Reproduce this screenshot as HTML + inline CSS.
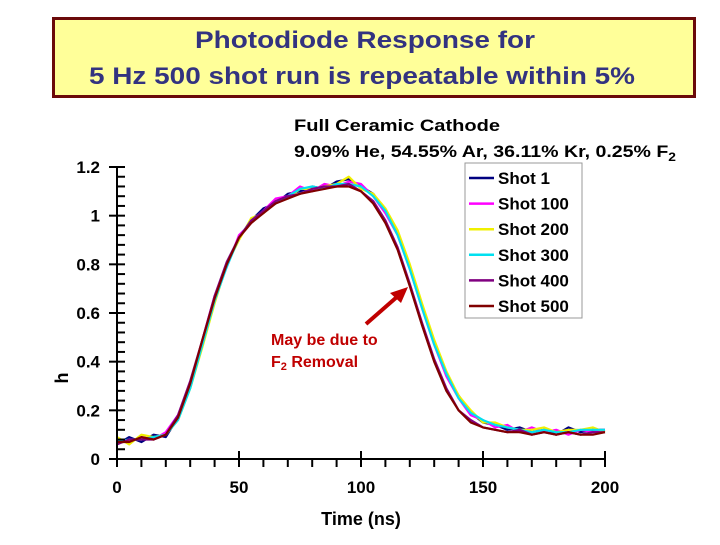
<!DOCTYPE html>
<html><head><meta charset="utf-8"><style>
body{margin:0;background:#fff;width:720px;height:540px;overflow:hidden}
svg text{font-family:"Liberation Sans",sans-serif;font-weight:bold}
</style></head><body>
<svg id="c" width="720" height="540" viewBox="0 0 720 540">
<rect x="53.5" y="18.5" width="641" height="78" fill="#ffff99" stroke="#6b0a0a" stroke-width="3"/>
<text x="365" y="48" text-anchor="middle" font-size="24" fill="#333380" textLength="340" lengthAdjust="spacingAndGlyphs">Photodiode Response for</text>
<text x="362" y="84" text-anchor="middle" font-size="24" fill="#333380" textLength="546" lengthAdjust="spacingAndGlyphs">5 Hz 500 shot run is repeatable within 5%</text>
<text x="294" y="131" font-size="17" fill="#000" textLength="206" lengthAdjust="spacingAndGlyphs">Full Ceramic Cathode</text>
<text x="294" y="157" font-size="17" fill="#000" textLength="382" lengthAdjust="spacingAndGlyphs">9.09% He, 54.55% Ar, 36.11% Kr, 0.25% F<tspan font-size="12" dy="4">2</tspan></text>
<g id="plot"></g>
<rect x="465" y="163" width="117" height="155" fill="#fff" stroke="#999" stroke-width="1"/>
<g id="legend"></g>
<text x="271" y="345" font-size="16" fill="#c00000">May be due to</text>
<text x="271" y="367" font-size="16" fill="#c00000">F<tspan font-size="11" dy="3">2</tspan><tspan dy="-3"> Removal</tspan></text>
<line x1="366" y1="324" x2="398" y2="296" stroke="#c00000" stroke-width="4"/>
<polygon points="408,287 390,293 401,303" fill="#c00000"/>
<text x="68" y="378" font-size="18" fill="#000" font-weight="normal" transform="rotate(-90 68 378)" text-anchor="middle">h</text>
<text x="361" y="525" font-size="18" fill="#000" text-anchor="middle">Time (ns)</text>
</svg>
<script>
const times=[0,5,10,15,20,25,30,35,40,45,50,55,60,65,70,75,80,85,90,95,100,105,110,115,120,125,130,135,140,145,150,155,160,165,170,175,180,185,190,195,200];
const seriesNames=["Shot 1","Shot 100","Shot 200","Shot 300","Shot 400","Shot 500"];
const seriesColors=["#000080","#ff00ff","#f0f000","#00e0f0","#800080","#800000"];
const shot1=[0.06,0.09,0.07,0.10,0.09,0.17,0.30,0.48,0.66,0.80,0.91,0.98,1.03,1.05,1.09,1.10,1.12,1.11,1.14,1.15,1.12,1.09,1.02,0.93,0.79,0.63,0.48,0.35,0.26,0.19,0.15,0.14,0.12,0.13,0.11,0.12,0.10,0.13,0.11,0.12,0.12];
const shot100=[0.08,0.07,0.09,0.08,0.11,0.18,0.31,0.49,0.67,0.79,0.92,0.97,1.02,1.07,1.08,1.12,1.10,1.13,1.12,1.14,1.13,1.08,1.01,0.92,0.78,0.62,0.47,0.34,0.25,0.18,0.16,0.13,0.14,0.11,0.13,0.11,0.12,0.10,0.12,0.11,0.12];
const shot200=[0.09,0.06,0.10,0.09,0.10,0.16,0.29,0.46,0.64,0.80,0.90,0.99,1.01,1.06,1.07,1.11,1.11,1.12,1.13,1.16,1.11,1.09,1.03,0.94,0.80,0.64,0.49,0.36,0.26,0.20,0.15,0.15,0.13,0.12,0.12,0.13,0.11,0.12,0.12,0.13,0.11];
const shot300=[0.07,0.08,0.08,0.09,0.10,0.16,0.29,0.47,0.65,0.79,0.91,0.98,1.02,1.05,1.08,1.11,1.12,1.11,1.13,1.13,1.12,1.08,1.02,0.92,0.78,0.62,0.47,0.35,0.25,0.19,0.16,0.14,0.13,0.12,0.11,0.12,0.11,0.11,0.12,0.12,0.12];
const shot400=[0.06,0.08,0.08,0.08,0.10,0.18,0.32,0.49,0.67,0.81,0.91,0.98,1.02,1.06,1.08,1.09,1.11,1.12,1.12,1.13,1.10,1.06,0.98,0.87,0.72,0.56,0.41,0.29,0.20,0.16,0.13,0.12,0.11,0.12,0.10,0.11,0.10,0.11,0.10,0.11,0.11];
const shot500=[0.07,0.07,0.09,0.08,0.10,0.17,0.31,0.49,0.66,0.80,0.91,0.97,1.01,1.05,1.07,1.09,1.10,1.11,1.12,1.12,1.10,1.05,0.97,0.86,0.71,0.55,0.40,0.28,0.20,0.15,0.13,0.12,0.11,0.11,0.10,0.11,0.10,0.11,0.10,0.10,0.11];
const allSeries=[shot1,shot100,shot200,shot300,shot400,shot500];
const xTicks=[0,50,100,150,200];
const yTicks=[0,0.2,0.4,0.6,0.8,1,1.2];
const yTickLabels=["0","0.2","0.4","0.6","0.8","1","1.2"];

const NS="http://www.w3.org/2000/svg";
const X0=117,X1=605,Y0=459,Y1=167;
function xs(v){return X0+(v-0)/(200-0)*(X1-X0);}
function ys(v){return Y0-(v-0)/(1.2-0)*(Y0-Y1);}
const plot=document.getElementById('plot');
function mk(tag,attrs,parent){const e=document.createElementNS(NS,tag);for(const k in attrs)e.setAttribute(k,attrs[k]);(parent||plot).appendChild(e);return e;}

allSeries.forEach((s,i)=>{
  const d=s.map((v,j)=>(j?'L':'M')+xs(times[j]).toFixed(1)+','+ys(v).toFixed(1)).join(' ');
  const p=mk('path',{d:d,fill:'none',stroke:seriesColors[i],'stroke-width':2.2,'stroke-linejoin':'round'});
  
  
});

const ax=mk('line',{x1:X0,y1:Y0,x2:X1,y2:Y0,stroke:'#000','stroke-width':2});


const ay=mk('line',{x1:X0,y1:Y0,x2:X0,y2:Y1,stroke:'#000','stroke-width':2});


for(let v=0;v<=200;v+=10){
  const major=v%50===0;
  const t=mk('line',{x1:xs(v),y1:major?Y0-8:Y0,x2:xs(v),y2:Y0+8,stroke:'#000','stroke-width':2});
  
  
}
for(let k=0;k<=30;k++){
  const v=k*0.04;const major=k%5===0;
  const t=mk('line',{x1:major?X0-8:X0,y1:ys(v),x2:X0+8,y2:ys(v),stroke:'#000','stroke-width':2});
  
  
}
xTicks.forEach(v=>{
  const t=mk('text',{x:xs(v),y:Y0+34,'text-anchor':'middle','font-size':17,fill:'#000'});
  t.textContent=String(v);
  
  
});
yTicks.forEach((v,i)=>{
  const t=mk('text',{x:X0-17,y:ys(v)+6,'text-anchor':'end','font-size':17,fill:'#000'});
  t.textContent=yTickLabels[i];
  
  
});

const lg=document.getElementById('legend');
seriesNames.forEach((n,i)=>{
  const y=178+i*25.6;
  const l=mk('line',{x1:469,y1:y,x2:494,y2:y,stroke:seriesColors[i],'stroke-width':2.5},lg);
  
  
  const t=mk('text',{x:498,y:y+6,'font-size':17,fill:'#000'},lg);
  t.textContent=n;
  
  
});
</script>
</body></html>
